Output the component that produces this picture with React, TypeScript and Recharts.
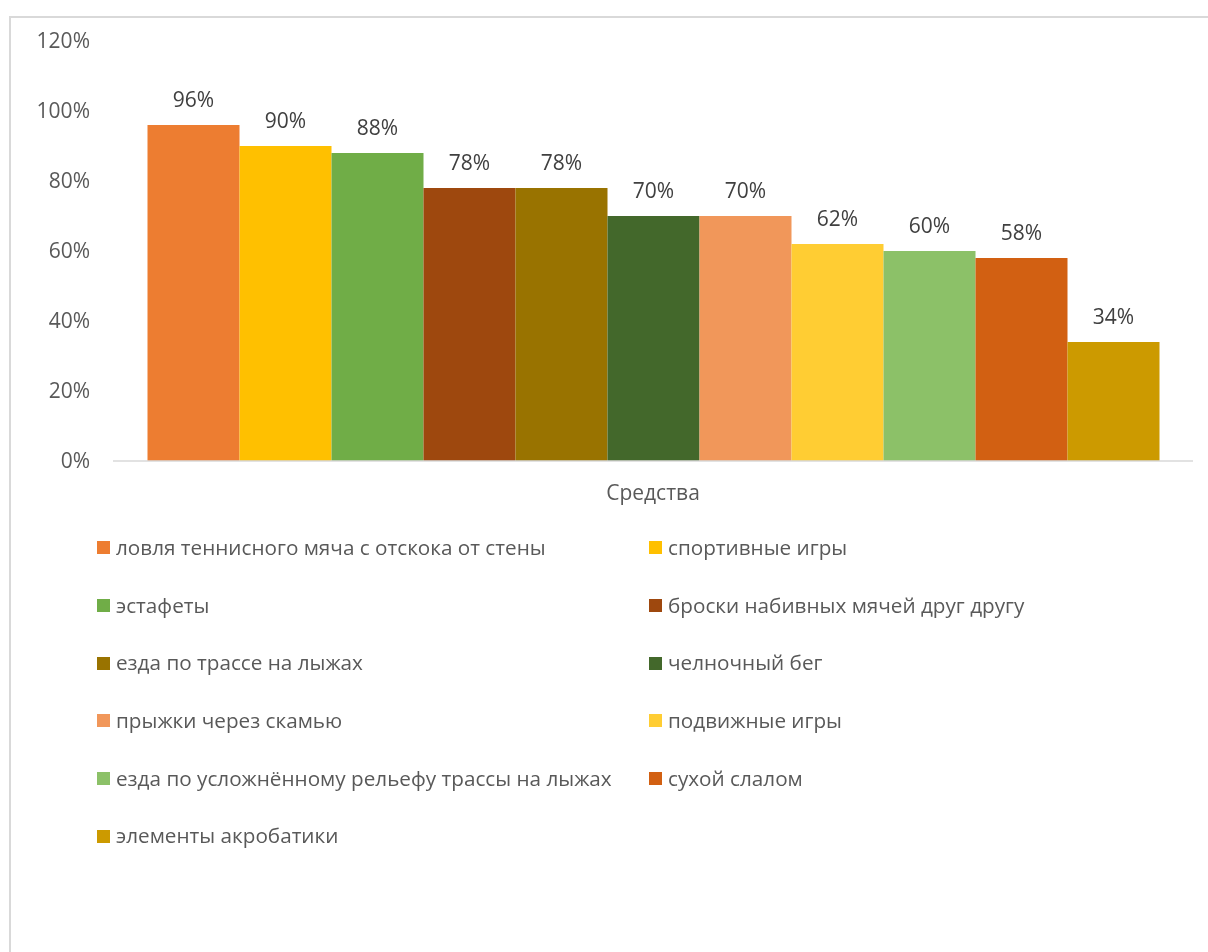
import React from "react";
import { BarChart, Bar, XAxis, YAxis, LabelList } from "recharts";

const categories = ["Средства"];

const seriesNames = [
  "ловля теннисного мяча с отскока от стены",
  "спортивные игры",
  "эстафеты",
  "броски набивных мячей друг другу",
  "езда по трассе на лыжах",
  "челночный бег",
  "прыжки через скамью",
  "подвижные игры",
  "езда по усложнённому рельефу трассы на лыжах",
  "сухой слалом",
  "элементы акробатики",
];

const seriesValues = [0.96, 0.9, 0.88, 0.78, 0.78, 0.7, 0.7, 0.62, 0.6, 0.58, 0.34];

const seriesColors = [
  "#ED7D31",
  "#FFC000",
  "#70AD47",
  "#9E480E",
  "#997300",
  "#43682B",
  "#F1975A",
  "#FFCD33",
  "#8CC168",
  "#D26012",
  "#CC9A00",
];

const yTicks = [0, 0.2, 0.4, 0.6, 0.8, 1.0, 1.2];

const data = categories.map((category) => {
  const row: Record<string, string | number> = { category };
  seriesValues.forEach((v, i) => {
    row["s" + i] = v;
  });
  return row;
});

const pct = (v: any) => Math.round(Number(v) * 100) + "%";

const font = "'Open Sans', sans-serif";

export default function App() {
  return (
    <div
      style={{
        position: "fixed",
        left: 9,
        top: 16,
        right: 0,
        bottom: 0,
        borderTop: "2px solid #d9d9d9",
        borderLeft: "2px solid #d9d9d9",
        fontFamily: font,
        overflow: "hidden",
      }}
    >
      <BarChart
        width={1190}
        height={500}
        data={data}
        margin={{ top: 23, right: 8, left: 0, bottom: 0 }}
        barCategoryGap={34.5}
        barGap={0}
      >
        <XAxis
          dataKey="category"
          height={57}
          tickLine={false}
          tickMargin={18}
          axisLine={{ stroke: "#d9d9d9", strokeWidth: 1.5 }}
          tick={{ fill: "#595959", fontSize: 21, fontFamily: font }}
        />
        <YAxis
          width={102}
          domain={[0, 1.2]}
          ticks={yTicks}
          tickFormatter={pct}
          axisLine={false}
          tickLine={false}
          tickMargin={17}
          tick={{ fill: "#595959", fontSize: 21, fontFamily: font }}
        />
        {seriesNames.map((name, i) => (
          <Bar
            key={name}
            dataKey={"s" + i}
            name={name}
            fill={seriesColors[i]}
            isAnimationActive={false}
          >
            <LabelList
              dataKey={"s" + i}
              position="top"
              offset={18}
              formatter={pct}
              fill="#404040"
              fontSize={21}
              fontFamily={font}
            />
          </Bar>
        ))}
      </BarChart>
      <div
        style={{
          display: "grid",
          gridTemplateColumns: "552px 520px",
          gridAutoRows: "57.7px",
          paddingLeft: 86,
        }}
      >
        {seriesNames.map((name, i) => (
          <div key={name} style={{ display: "flex", alignItems: "center" }}>
            <span
              style={{
                display: "inline-block",
                width: 13,
                height: 13,
                background: seriesColors[i],
                marginRight: 6,
                position: "relative",
                top: 1,
              }}
            />
            <span style={{ color: "#595959", fontSize: 20.7, whiteSpace: "nowrap" }}>{name}</span>
          </div>
        ))}
      </div>
    </div>
  );
}
